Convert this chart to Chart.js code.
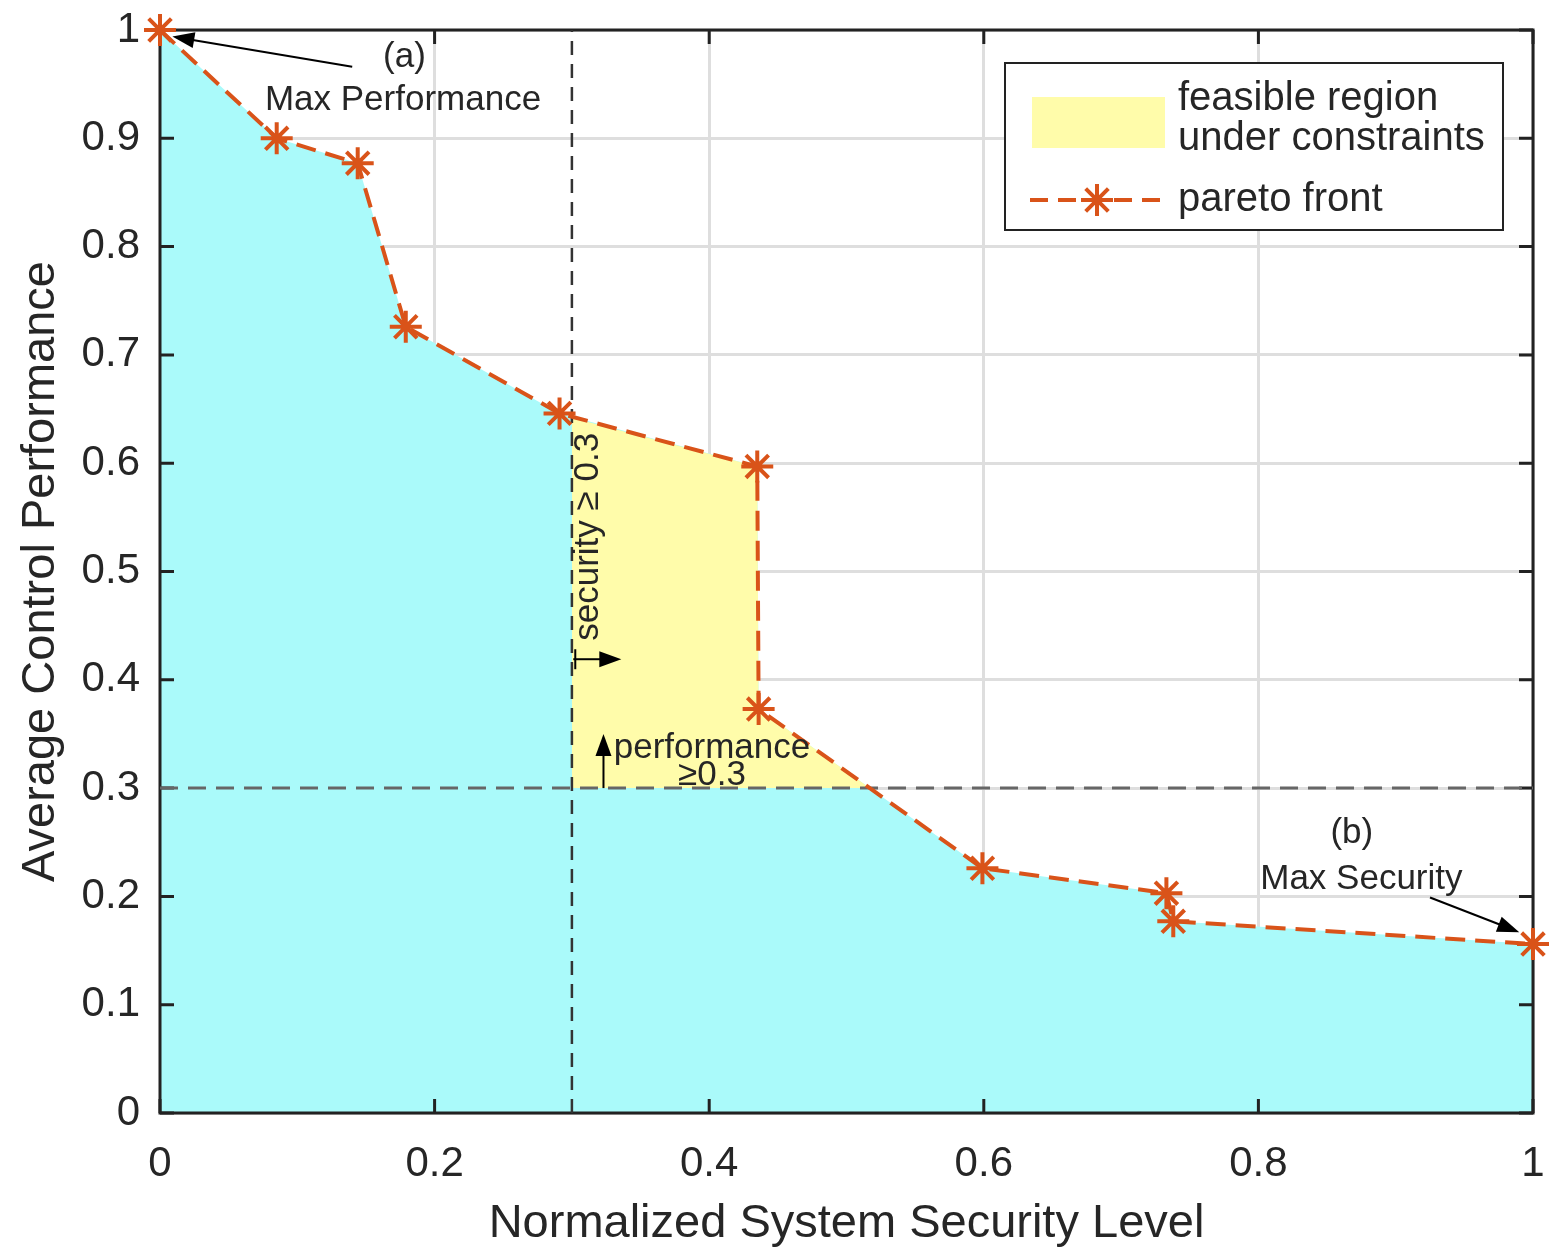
<!DOCTYPE html>
<html>
<head>
<meta charset="utf-8">
<script src="https://cdn.jsdelivr.net/npm/chart.js@4/dist/chart.umd.min.js"></script>
<style>
  body { margin: 0; background: #fff; }
  #wrap { width: 1553px; height: 1253px; position: relative; }
</style>
</head>
<body>
<div id="wrap"><canvas id="chartPareto"></canvas></div>
<script>
// pareto front
var securityLevel = [0, 0.085, 0.144, 0.179, 0.291, 0.435, 0.436, 0.599, 0.733, 0.738, 1.0];
var controlPerf   = [1.0, 0.900, 0.877, 0.726, 0.646, 0.597, 0.373, 0.226, 0.203, 0.177, 0.156];

// feasible region (above both limits, under the front)
var feasibleX = [0.3, 0.435, 0.436, 0.517];
var feasibleY = [0.642, 0.597, 0.373, 0.3];

var securityLimit = 0.3;
var perfLimit = 0.3;

var xTicks = [0, 0.2, 0.4, 0.6, 0.8, 1];
var yTicks = [0, 0.1, 0.2, 0.3, 0.4, 0.5, 0.6, 0.7, 0.8, 0.9, 1];

var FONT = "'Liberation Sans', Arial, sans-serif";
var ORANGE = '#D95319';
var TXT = '#262626';

function pts(xs, ys) {
    var out = [];
    for (var i = 0; i < xs.length; i++) out.push({x: xs[i], y: ys[i]});
    return out;
}

function arrow(ctx, x1, y1, x2, y2) {
    var a = Math.atan2(y2 - y1, x2 - x1);
    var len = 22, w = 8;
    ctx.beginPath();
    ctx.moveTo(x1, y1);
    ctx.lineTo(x2 - Math.cos(a) * len * 0.8, y2 - Math.sin(a) * len * 0.8);
    ctx.stroke();
    ctx.beginPath();
    ctx.moveTo(x2, y2);
    ctx.lineTo(x2 - Math.cos(a) * len - Math.sin(a) * w, y2 - Math.sin(a) * len + Math.cos(a) * w);
    ctx.lineTo(x2 - Math.cos(a) * len + Math.sin(a) * w, y2 - Math.sin(a) * len - Math.cos(a) * w);
    ctx.closePath();
    ctx.fill();
}

function star(ctx, x, y, r) {
    ctx.beginPath();
    ctx.moveTo(x - r, y); ctx.lineTo(x + r, y);
    ctx.moveTo(x, y - r); ctx.lineTo(x, y + r);
    var d = r * 0.7071;
    ctx.moveTo(x - d, y - d); ctx.lineTo(x + d, y + d);
    ctx.moveTo(x - d, y + d); ctx.lineTo(x + d, y - d);
    ctx.stroke();
}

// texts and arrows placed in data units
var notes = [
    {text: '(a)', x: 0.178, y: 0.975},
    {text: 'Max Performance', x: 0.177, y: 0.935},
    {text: '(b)', x: 0.868, y: 0.258},
    {text: 'Max Security', x: 0.875, y: 0.216},
    {text: 'performance', x: 0.402, y: 0.337},
    {text: '\u22650.3', x: 0.402, y: 0.312},
    {text: 'security \u2265 0.3', x: 0.312, y: 0.532, rot: -Math.PI / 2}
];
var arrows = [
    [0.140, 0.966, 0.009, 0.994],
    [0.925, 0.199, 0.990, 0.167],
    [0.301, 0.419, 0.336, 0.419],
    [0.323, 0.300, 0.323, 0.350]
];

var decor = {
    id: 'decor',
    afterDatasetDraw: function(chart, args) {
        // frame + inside ticks go right after the cyan fill
        if (args.index !== 0) return;
        var ctx = chart.ctx, a = chart.chartArea;
        var sx = chart.scales.x, sy = chart.scales.y;
        ctx.save();
        ctx.strokeStyle = '#222';
        ctx.lineWidth = 3;
        ctx.beginPath();
        xTicks.forEach(function(v) {
            var px = sx.getPixelForValue(v);
            ctx.moveTo(px, a.bottom); ctx.lineTo(px, a.bottom - 14);
            ctx.moveTo(px, a.top); ctx.lineTo(px, a.top + 14);
        });
        yTicks.forEach(function(v) {
            var py = sy.getPixelForValue(v);
            ctx.moveTo(a.left, py); ctx.lineTo(a.left + 14, py);
            ctx.moveTo(a.right, py); ctx.lineTo(a.right - 14, py);
        });
        ctx.stroke();
        ctx.strokeRect(a.left, a.top, a.right - a.left, a.bottom - a.top);
        ctx.restore();
    },
    afterDraw: function(chart) {
        var ctx = chart.ctx, a = chart.chartArea;
        var sx = chart.scales.x, sy = chart.scales.y;
        ctx.save();
        ctx.fillStyle = TXT;
        ctx.font = '35px ' + FONT;
        ctx.textAlign = 'center';
        ctx.textBaseline = 'middle';
        notes.forEach(function(n) {
            var px = sx.getPixelForValue(n.x), py = sy.getPixelForValue(n.y);
            ctx.save();
            ctx.translate(px, py);
            if (n.rot) ctx.rotate(n.rot);
            ctx.fillText(n.text, 0, 0);
            ctx.restore();
        });
        ctx.strokeStyle = '#000';
        ctx.fillStyle = '#000';
        ctx.lineWidth = 2;
        arrows.forEach(function(r) {
            arrow(ctx, sx.getPixelForValue(r[0]), sy.getPixelForValue(r[1]),
                  sx.getPixelForValue(r[2]), sy.getPixelForValue(r[3]));
        });
        // little bar at the start of the security arrow
        var bx = sx.getPixelForValue(arrows[2][0]) + 2, by = sy.getPixelForValue(arrows[2][1]);
        ctx.beginPath(); ctx.moveTo(bx, by - 10); ctx.lineTo(bx, by + 10); ctx.stroke();

        // legend box
        var lw = 498, lh = 167;
        var lx = a.right - 30 - lw, ly = a.top + 33;
        ctx.fillStyle = '#fff';
        ctx.fillRect(lx, ly, lw, lh);
        ctx.strokeStyle = '#222';
        ctx.lineWidth = 2;
        ctx.strokeRect(lx, ly, lw, lh);
        ctx.fillStyle = '#FFFCAA';
        ctx.fillRect(lx + 27, ly + 34, 133, 51);
        ctx.strokeStyle = ORANGE;
        ctx.lineWidth = 4;
        ctx.setLineDash([18, 10]);
        ctx.beginPath(); ctx.moveTo(lx + 25, ly + 137); ctx.lineTo(lx + 160, ly + 137); ctx.stroke();
        ctx.setLineDash([]);
        star(ctx, lx + 92, ly + 137, 16);
        ctx.fillStyle = TXT;
        ctx.font = '40px ' + FONT;
        ctx.textAlign = 'left';
        ctx.fillText('feasible region', lx + 173, ly + 36);
        ctx.fillText('under constraints', lx + 173, ly + 76);
        ctx.fillText('pareto front', lx + 173, ly + 137);
        ctx.restore();
    }
};

var chartPareto = new Chart(document.getElementById('chartPareto'), {
    type: 'line',
    data: {
        datasets: [{
            label: 'under front',
            data: pts(securityLevel, controlPerf),
            backgroundColor: '#AAFAFA',
            borderWidth: 0,
            pointRadius: 0,
            fill: 'origin',
            order: 4
        }, {
            label: 'feasible region under constraints',
            data: pts(feasibleX, feasibleY),
            backgroundColor: '#FFFCAA',
            borderWidth: 0,
            pointRadius: 0,
            fill: {value: perfLimit},
            order: 3
        }, {
            label: 'security limit',
            data: pts([securityLimit, securityLimit], [0, 1]),
            borderColor: '#333',
            borderWidth: 2.5,
            borderDash: [14, 9],
            pointRadius: 0,
            fill: false,
            order: 2
        }, {
            label: 'performance limit',
            data: pts([0, 1], [perfLimit, perfLimit]),
            borderColor: '#666',
            borderWidth: 3,
            borderDash: [18, 10],
            pointRadius: 0,
            fill: false,
            order: 2
        }, {
            label: 'pareto front',
            data: pts(securityLevel, controlPerf),
            borderColor: ORANGE,
            borderWidth: 4,
            borderDash: [20, 10],
            pointStyle: 'star',
            pointRadius: 16,
            pointBorderWidth: 4,
            pointBorderColor: ORANGE,
            pointBackgroundColor: ORANGE,
            fill: false,
            clip: false,
            order: 0
        }]
    },
    options: {
        responsive: true,
        maintainAspectRatio: false,
        animation: false,
        layout: { padding: { top: 30, right: 20, left: 0, bottom: 0 } },
        plugins: {
            legend: { display: false },
            tooltip: { enabled: false }
        },
        scales: {
            x: {
                type: 'linear',
                min: 0, max: 1,
                afterFit: function(s) { s.height = 140; s.paddingLeft = 0; s.paddingRight = 0; },
                afterBuildTicks: function(s) { s.ticks = xTicks.map(function(v) { return {value: v}; }); },
                border: { display: false },
                grid: { color: '#dedede', lineWidth: 3, drawTicks: false },
                ticks: {
                    padding: 26, maxRotation: 0, color: TXT,
                    font: { family: FONT, size: 42 },
                    callback: function(v) { return String(Math.round(v * 10) / 10); }
                },
                title: {
                    display: true, text: 'Normalized System Security Level', color: TXT,
                    font: { family: FONT, size: 47 }, padding: { top: 0, bottom: 1 }
                }
            },
            y: {
                min: 0, max: 1,
                afterFit: function(s) { s.width = 160; s.paddingTop = 0; s.paddingBottom = 0; },
                afterBuildTicks: function(s) { s.ticks = yTicks.map(function(v) { return {value: v}; }); },
                border: { display: false },
                grid: { color: '#dedede', lineWidth: 3, drawTicks: false },
                ticks: {
                    padding: 20, color: TXT,
                    font: { family: FONT, size: 42 },
                    callback: function(v) { return String(Math.round(v * 10) / 10); }
                },
                title: {
                    display: true, text: 'Average Control Performance', color: TXT,
                    font: { family: FONT, size: 47 }, padding: { top: 13, bottom: 0 }
                }
            }
        }
    },
    plugins: [decor]
});
</script>
</body>
</html>
